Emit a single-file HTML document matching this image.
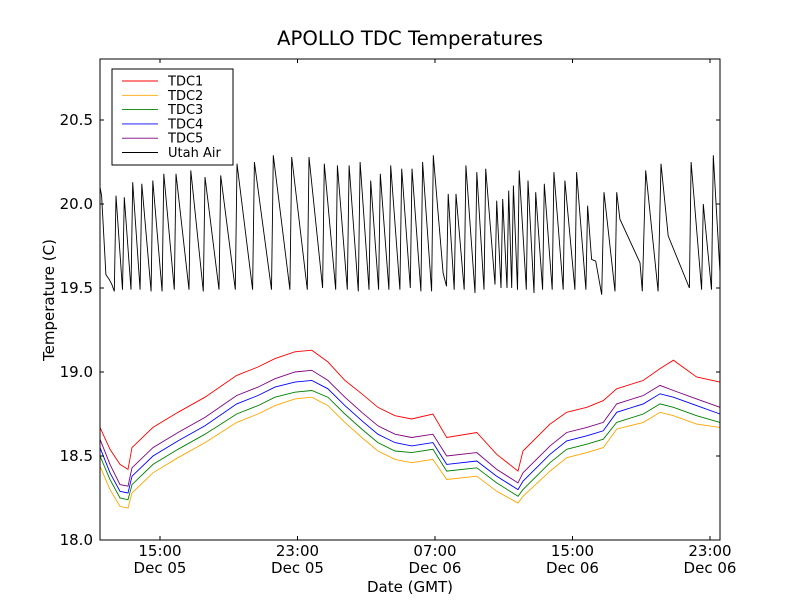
<!DOCTYPE html>
<html><head><meta charset="utf-8"><style>
body{margin:0;background:#fff;}
svg{display:block;font-family:"DejaVu Sans","Liberation Sans",sans-serif;}
</style></head><body>
<svg id="chart" width="800" height="600" viewBox="0 0 800 600" xmlns="http://www.w3.org/2000/svg">
<rect width="800" height="600" fill="#fff"/>
<text x="410" y="45" font-size="19.7" text-anchor="middle">APOLLO TDC Temperatures</text>
<g id="plot"></g>
<rect x="100" y="59" width="620" height="481" fill="none" stroke="#000" stroke-width="1"/>
<g id="axes"></g>
<text transform="translate(54,300) rotate(-90)" font-size="15" text-anchor="middle">Temperature (C)</text>
<text x="410" y="592" font-size="15" text-anchor="middle">Date (GMT)</text>
<g>
<rect x="112" y="69" width="121" height="96" fill="#fff" stroke="#000"/>
<g id="legend-entries"></g>
</g>
</svg>
<script>
const tdcT=[11.51,12.09,12.67,13.14,13.37,14.59,16.05,17.62,19.46,20.70,21.69,22.85,23.83,24.77,25.76,26.74,27.68,28.67,29.64,30.88,31.68,33.43,34.59,35.83,36.12,37.69,38.66,39.83,40.79,41.57,43.12,44.09,44.87,46.22,47.58];
const tdc1=[18.67,18.54,18.45,18.42,18.55,18.67,18.76,18.85,18.98,19.03,19.08,19.12,19.13,19.06,18.95,18.87,18.79,18.74,18.72,18.75,18.61,18.64,18.51,18.41,18.53,18.69,18.76,18.79,18.83,18.90,18.95,19.02,19.07,18.97,18.94];
const tdc5=[18.60,18.45,18.33,18.32,18.43,18.55,18.64,18.73,18.86,18.91,18.96,19.00,19.01,18.95,18.85,18.76,18.68,18.63,18.61,18.63,18.50,18.52,18.42,18.34,18.40,18.56,18.64,18.67,18.70,18.81,18.86,18.92,18.89,18.84,18.79];
const tdc4=[18.55,18.40,18.29,18.28,18.38,18.50,18.59,18.68,18.81,18.86,18.91,18.94,18.95,18.90,18.80,18.71,18.63,18.58,18.56,18.58,18.45,18.47,18.38,18.30,18.35,18.51,18.59,18.62,18.65,18.76,18.81,18.87,18.85,18.80,18.75];
const tdc3=[18.50,18.36,18.25,18.24,18.33,18.45,18.54,18.63,18.75,18.80,18.85,18.88,18.89,18.85,18.75,18.66,18.58,18.53,18.52,18.54,18.41,18.43,18.34,18.26,18.30,18.46,18.54,18.57,18.60,18.70,18.75,18.81,18.79,18.74,18.70];
const tdc2=[18.44,18.30,18.20,18.19,18.28,18.40,18.49,18.58,18.70,18.75,18.80,18.84,18.85,18.80,18.70,18.61,18.53,18.48,18.46,18.48,18.36,18.38,18.29,18.22,18.26,18.41,18.49,18.52,18.55,18.66,18.70,18.76,18.74,18.69,18.67];
const airT=[11.51,11.60,11.85,12.05,12.20,12.34,12.44,12.82,12.92,13.31,13.41,13.84,13.94,14.48,14.58,15.12,15.22,15.83,15.93,16.69,16.79,17.52,17.62,18.43,18.53,19.38,19.48,20.39,20.49,21.49,21.59,22.56,22.66,23.57,23.67,24.46,24.56,25.22,25.32,25.90,26.00,26.54,26.64,27.16,27.26,27.72,27.82,28.32,28.42,28.96,29.06,29.56,29.66,30.18,30.28,30.80,30.90,31.47,31.67,31.77,32.12,32.22,32.70,32.80,33.33,33.43,33.85,33.95,34.49,34.59,34.84,34.94,35.19,35.29,35.46,35.56,35.80,35.90,36.31,36.41,36.76,36.86,37.26,37.36,37.82,37.92,38.46,38.56,39.14,39.24,39.78,39.88,40.11,40.35,40.70,40.83,41.47,41.57,41.76,42.93,43.06,43.26,43.98,44.15,44.57,45.80,45.90,46.51,46.61,47.09,47.19,47.58];
const airV=[20.10,20.05,19.58,19.55,19.52,19.48,20.05,19.49,20.04,19.49,20.13,19.49,20.12,19.48,20.14,19.48,20.18,19.49,20.18,19.49,20.20,19.48,20.16,19.49,20.17,19.49,20.24,19.49,20.25,19.49,20.29,19.49,20.28,19.49,20.28,19.50,20.24,19.49,20.23,19.49,20.23,19.48,20.25,19.49,20.14,19.49,20.18,19.49,20.23,19.49,20.21,19.50,20.21,19.48,20.25,19.48,20.29,19.59,19.51,20.06,19.49,20.06,19.49,20.23,19.47,20.19,19.49,20.21,19.52,20.02,19.50,20.03,19.50,20.08,19.50,20.11,19.49,20.20,19.49,20.14,19.47,20.07,19.49,20.12,19.49,20.19,19.49,20.14,19.49,20.19,19.49,19.99,19.67,19.66,19.46,20.07,19.48,20.07,19.91,19.65,19.48,20.20,19.48,20.24,19.81,19.50,20.25,19.49,20.00,19.49,20.29,19.59];
const yTicks=[18.0,18.5,19.0,19.5,20.0,20.5];
const xTicks=[15,23,31,39,47];
const xTimeLabels=["15:00","23:00","07:00","15:00","23:00"];
const xDateLabels=["Dec 05","Dec 05","Dec 06","Dec 06","Dec 06"];
const seriesNames=["TDC1","TDC2","TDC3","TDC4","TDC5","Utah Air"];
const seriesColors=["#ff0000","#ffa500","#008000","#0000ff","#800080","#000000"];

const NS="http://www.w3.org/2000/svg";
const X=t=>160+(t-15)*17.1875;
const Y=v=>540-(v-18)*168;
const plot=document.getElementById('plot');
function drawLine(ts,vs,color,name){
  const p=document.createElementNS(NS,'polyline');
  p.setAttribute('points',ts.map((t,i)=>X(t).toFixed(1)+','+Y(vs[i]).toFixed(1)).join(' '));
  p.setAttribute('fill','none');p.setAttribute('stroke',color);p.setAttribute('stroke-width','0.9');
  
  
  plot.appendChild(p);
}
drawLine(airT,airV,seriesColors[5],'utah-air-line');
drawLine(tdcT,tdc2,seriesColors[1],'tdc2-line');
drawLine(tdcT,tdc3,seriesColors[2],'tdc3-line');
drawLine(tdcT,tdc4,seriesColors[3],'tdc4-line');
drawLine(tdcT,tdc5,seriesColors[4],'tdc5-line');
drawLine(tdcT,tdc1,seriesColors[0],'tdc1-line');

const axes=document.getElementById('axes');
function el(tag,attrs,parent){const e=document.createElementNS(NS,tag);for(const k in attrs)e.setAttribute(k,attrs[k]);parent.appendChild(e);return e;}
yTicks.forEach(v=>{
  const y=Y(v);
  el('line',{x1:100,y1:y,x2:104,y2:y,stroke:'#000'},axes);
  el('line',{x1:716,y1:y,x2:720,y2:y,stroke:'#000'},axes);
  const t=el('text',{x:93,y:y+5,'font-size':15,'text-anchor':'end'},axes);
  t.textContent=v.toFixed(1);
  
  
});
xTicks.forEach((h,i)=>{
  const x=X(h);
  el('line',{x1:x,y1:540,x2:x,y2:536,stroke:'#000'},axes);
  el('line',{x1:x,y1:59,x2:x,y2:63,stroke:'#000'},axes);
  const t1=el('text',{x:x,y:556,'font-size':15,'text-anchor':'middle'},axes);
  t1.textContent=xTimeLabels[i];
  
  
  const t2=el('text',{x:x,y:573,'font-size':15,'text-anchor':'middle'},axes);
  t2.textContent=xDateLabels[i];
  
  
});
const lg=document.getElementById('legend-entries');
seriesNames.forEach((n,i)=>{
  const y=81+i*14.3;
  const g=el('g',{},lg);
  
  
  el('line',{x1:122,y1:y,x2:158,y2:y,stroke:seriesColors[i],'stroke-width':0.9},g);
  const t=el('text',{x:168,y:y+4.5,'font-size':13},g);
  t.textContent=n;
});
</script>
</body></html>
